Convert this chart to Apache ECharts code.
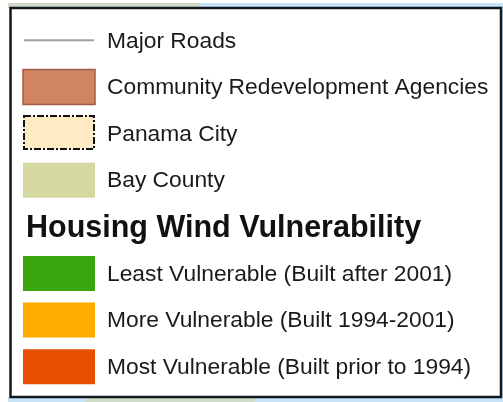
<!DOCTYPE html>
<html lang="en">
<head>
    <meta charset="UTF-8">
    <script src="https://cdn.jsdelivr.net/npm/echarts@6/dist/echarts.min.js"></script>
    <title>Housing Wind Vulnerability legend</title>
    <style>
        html, body { margin: 0; padding: 0; background: #ffffff; }
        #chart { width: 503px; height: 402px; }
    </style>
</head>
<body>
    <div id="chart"></div>
    <script>
        // legend rows, top to bottom
        const rowLabels = ['Major Roads', 'Community Redevelopment Agencies', 'Panama City', 'Bay County',
            'Housing Wind Vulnerability', 'Least Vulnerable (Built after 2001)',
            'More Vulnerable (Built 1994-2001)', 'Most Vulnerable (Built prior to 1994)']
        const rowKinds = ['line', 'solid', 'dashed', 'solid', 'heading', 'solid', 'solid', 'solid']

        // swatch look for each row
        const swatchFill = ['#a0a0a0', '#cf8562', '#feeac4', '#d6d8a2', null, '#3aa60e', '#ffab00', '#e84f03']
        const swatchBorder = [null, '#a65a48', '#111111', null, null, null, null, null]

        const SW_LEFT = 23, SW_W = 72, SW_H = 35, TEXT_X = 107

        function renderRow(params, api) {
            let i = api.value(0)
            let y = api.coord([0, i])[1]
            let kind = rowKinds[i]
            let kids = []
            if (kind === 'heading') {
                kids.push({type: 'text', style: {x: 26, y: y + 1.5, text: rowLabels[i], fill: '#111',
                    font: 'bold 30.5px "Liberation Sans", Arial, sans-serif', textVerticalAlign: 'middle'}})
                return {type: 'group', children: kids}
            }
            if (kind === 'line') {
                kids.push({type: 'line', shape: {x1: SW_LEFT + 1, y1: y, x2: SW_LEFT + SW_W - 1, y2: y},
                    style: {stroke: swatchFill[i], lineWidth: 2}})
            } else if (kind === 'dashed') {
                kids.push({type: 'rect', shape: {x: SW_LEFT + 1, y: y - SW_H / 2, width: SW_W - 2, height: SW_H - 2},
                    style: {fill: swatchFill[i], stroke: swatchBorder[i], lineWidth: 2, lineDash: [7, 2, 2, 2]}})
            } else {
                kids.push({type: 'rect', shape: {x: SW_LEFT, y: y - SW_H / 2, width: SW_W, height: SW_H},
                    style: {fill: swatchFill[i], stroke: swatchBorder[i] || null, lineWidth: swatchBorder[i] ? 1.5 : 0}})
            }
            kids.push({type: 'text', style: {x: TEXT_X, y: y + 1, text: rowLabels[i], fill: '#1a1a1a',
                font: '22.8px "Liberation Sans", Arial, sans-serif', textVerticalAlign: 'middle'}})
            return {type: 'group', children: kids}
        }

        let legendChart = echarts.init(document.getElementById('chart'))
        let option = {
            animation: false,
            backgroundColor: '#ffffff',
            grid: {left: 0, right: 0, top: 17, bottom: 12},
            xAxis: {type: 'value', min: 0, max: 1, show: false},
            yAxis: {type: 'category', data: rowLabels, inverse: true, show: false},
            graphic: [
                // map peeking out around the legend frame
                {type: 'rect', shape: {x: 8, y: 3, width: 192, height: 5}, style: {fill: '#cfd8c6'}, z: -1},
                {type: 'rect', shape: {x: 200, y: 3, width: 303, height: 5}, style: {fill: '#c6e3f5'}, z: -1},
                {type: 'rect', shape: {x: 8, y: 397, width: 495, height: 5}, style: {fill: '#c6e3f5'}, z: -1},
                {type: 'rect', shape: {x: 85, y: 397, width: 170, height: 5}, style: {fill: '#cfdcc8'}, z: -1},
                {type: 'rect', shape: {x: 501, y: 3, width: 2, height: 399}, style: {fill: '#c6e3f5'}, z: -1},
                // legend frame
                {type: 'rect', shape: {x: 10.5, y: 8, width: 490.5, height: 389},
                    style: {fill: '#ffffff', stroke: '#111820', lineWidth: 2.5}, z: 0}
            ],
            series: [{
                type: 'custom',
                renderItem: renderRow,
                data: rowLabels.map((_, i) => [i]),
                encode: {y: 0},
                z: 5
            }]
        }
        legendChart.setOption(option)
    </script>
</body>
</html>
